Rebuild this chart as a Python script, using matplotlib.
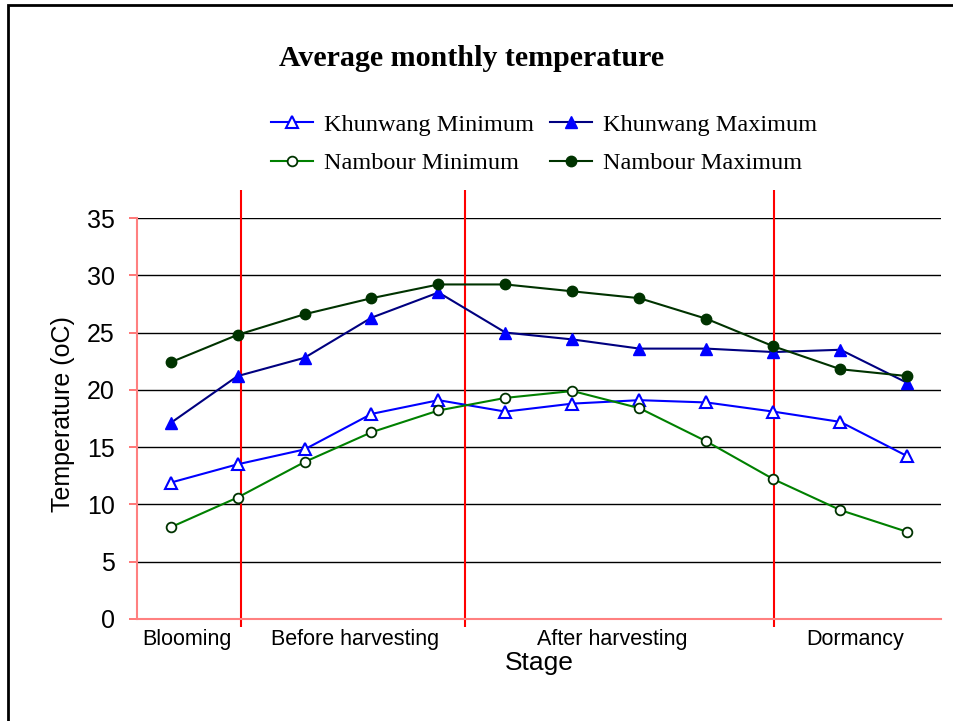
import matplotlib
matplotlib.use("Agg")
import matplotlib.pyplot as plt
from matplotlib.patches import Rectangle
import numpy as np

# monthly values, 12 months
khunwang_min = [11.9, 13.5, 14.8, 17.9, 19.1, 18.1, 18.8, 19.1, 18.9, 18.1, 17.2, 14.2]
khunwang_max = [17.1, 21.2, 22.8, 26.3, 28.5, 25.0, 24.4, 23.6, 23.6, 23.3, 23.5, 20.6]
nambour_min = [8.0, 10.6, 13.7, 16.3, 18.2, 19.3, 19.9, 18.4, 15.5, 12.2, 9.5, 7.6]
nambour_max = [22.4, 24.8, 26.6, 28.0, 29.2, 29.2, 28.6, 28.0, 26.2, 23.8, 21.8, 21.2]

stages = ['Blooming', 'Before harvesting', 'After harvesting', 'Dormancy']
stage_pos = [0.25, 2.76, 6.6, 10.22]
stage_bounds = [1.045, 4.39, 9.01]

SANS = 'Liberation Sans'
SERIF = 'Liberation Serif'

fig = plt.figure(figsize=(9.54, 7.21), dpi=100)
ax = fig.add_axes([137 / 954, 1 - 619 / 721, (941 - 137) / 954, (619 - 218) / 721])

x = np.arange(len(khunwang_min))
l1, = ax.plot(x, khunwang_min, color='#0000ff', lw=1.5, marker='^', ms=8,
              mfc='white', mec='#0000ff', mew=1.5, label='Khunwang Minimum')
l2, = ax.plot(x, khunwang_max, color='#000080', lw=1.5, marker='^', ms=8,
              mfc='#0000ff', mec='#0000ff', label='Khunwang Maximum')
l3, = ax.plot(x, nambour_min, color='#008000', lw=1.5, marker='o', ms=7,
              mfc='white', mec='#003300', mew=1.3, label='Nambour Minimum')
l4, = ax.plot(x, nambour_max, color='#003300', lw=1.5, marker='o', ms=7.5,
              mfc='#003300', mec='#003300', label='Nambour Maximum')

ax.set_xlim(-0.5, len(x) - 0.5)
ax.set_ylim(0, 35)
ax.set_yticks(range(0, 36, 5))
ax.set_xticks([])
ax.yaxis.grid(True, color='black', lw=1)
ax.set_axisbelow(True)

for s in ['top', 'right']:
    ax.spines[s].set_visible(False)
for s in ['left', 'bottom']:
    ax.spines[s].set_color('#ff8080')
    ax.spines[s].set_linewidth(1.5)
ax.tick_params(axis='y', length=6, width=1.2, color='#ff6060', pad=10,
               labelsize=18, labelfontfamily=SANS)

# stage separators
ax.vlines(stage_bounds, -0.02, 1.07, transform=ax.get_xaxis_transform(),
          colors='#ff0000', lw=1.5, clip_on=False, zorder=1)

for name, pos in zip(stages, stage_pos):
    ax.text(pos, -0.052, name, transform=ax.get_xaxis_transform(),
            ha='center', va='center', fontsize=15.5, family=SANS)

ax.set_xlabel('Stage', fontsize=19, family=SANS)
ax.xaxis.set_label_coords(0.5, -0.08)
ax.set_ylabel('Temperature (oC)', fontsize=18, family=SANS)
ax.yaxis.set_label_coords(-0.077, 0.51)

fig.text(472 / 954, 1 - 59 / 721, 'Average monthly temperature', ha='center',
         va='center', fontsize=21.6, fontweight='bold', family=SERIF)

# legend is filled column-wise, so order gives rows: Khunwang / Nambour
fig.legend([l1, l3, l2, l4], [l.get_label() for l in (l1, l3, l2, l4)],
           loc='center', bbox_to_anchor=(544 / 954, 1 - 144 / 721), ncol=2,
           frameon=False, prop={'family': SERIF, 'size': 17.5},
           handlelength=1.75, handletextpad=0.45, columnspacing=0.65,
           labelspacing=0.68)

# outer frame of the chart
fig.patches.append(Rectangle((8 / 954, -0.05), 1.2, 1 - 5 / 721 + 0.05,
                             transform=fig.transFigure, fill=False,
                             ec='black', lw=2))

fig.savefig('out.png', dpi=100)
